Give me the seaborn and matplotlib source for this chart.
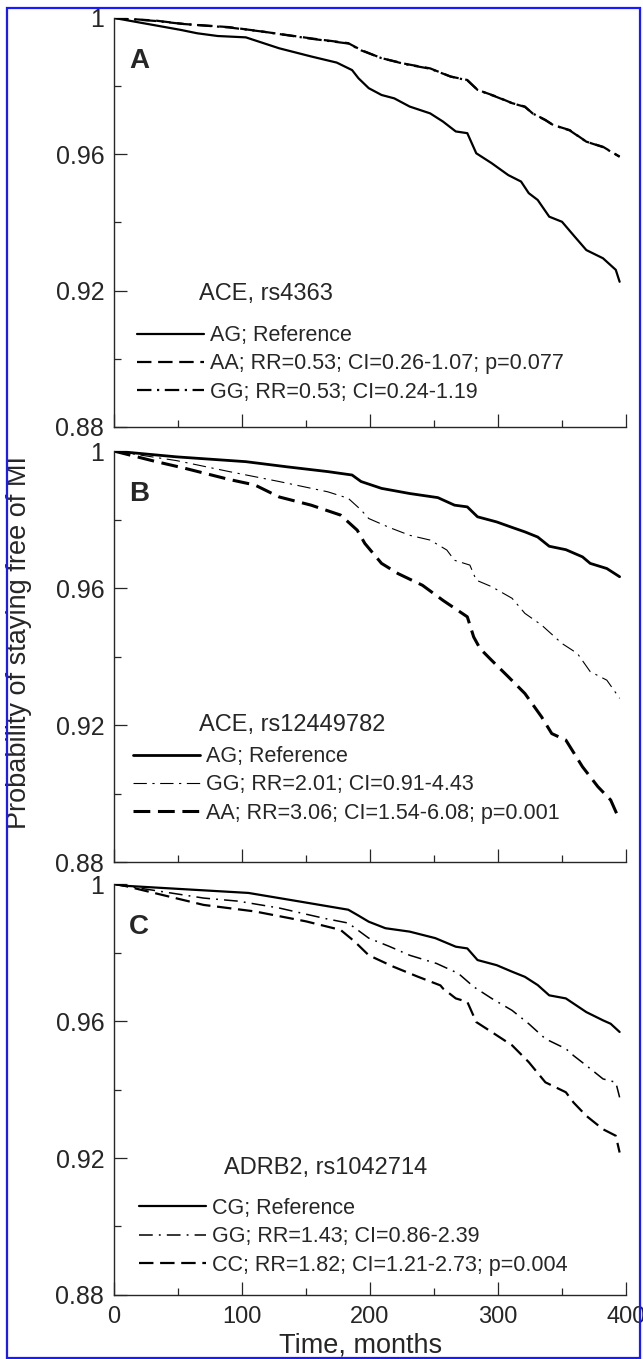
import numpy as np
import pandas as pd
import matplotlib
matplotlib.use('Agg')
import matplotlib.pyplot as plt
import seaborn as sns
from matplotlib.patches import Rectangle
from matplotlib.ticker import MultipleLocator, FuncFormatter

# Panel A: ACE, rs4363
a_ag_t = [0, 52, 65, 81, 103, 129, 154, 174, 186, 191, 199, 209, 219, 231, 247, 257, 267, 276,
          283, 295, 308, 318, 324, 331, 340, 350, 360, 369, 382, 392, 395]
a_ag_p = [1.0, 0.9965, 0.9955, 0.9947, 0.9943, 0.9911, 0.9887, 0.9869, 0.9847, 0.9823, 0.9794,
          0.9774, 0.9764, 0.9740, 0.9720, 0.9696, 0.9667, 0.9662, 0.9603, 0.9574, 0.9539, 0.9520,
          0.9486, 0.9466, 0.9417, 0.9402, 0.9358, 0.9319, 0.9295, 0.9261, 0.9226]
a_aa_t = [0, 33, 55, 90, 116, 154, 183, 193, 209, 228, 247, 263, 276, 284, 299, 311, 321, 327,
          337, 343, 356, 369, 382, 395]
a_aa_p = [1.0, 0.9992, 0.9982, 0.9973, 0.9960, 0.9940, 0.9926, 0.9906, 0.9882, 0.9865, 0.9852,
          0.9828, 0.9818, 0.9789, 0.9769, 0.9750, 0.9740, 0.9720, 0.9701, 0.9686, 0.9671, 0.9637,
          0.9622, 0.9593]
a_gg_t = [0, 33, 55, 90, 116, 154, 183, 193, 209, 228, 247, 263, 276, 284, 299, 311, 321, 327,
          337, 343, 356, 369, 382, 395]
a_gg_p = [1.0, 0.9991, 0.9982, 0.9972, 0.9960, 0.9939, 0.9925, 0.9905, 0.9882, 0.9864, 0.9851,
          0.9828, 0.9817, 0.9789, 0.9768, 0.9750, 0.9739, 0.9720, 0.9700, 0.9686, 0.9670, 0.9637,
          0.9621, 0.9593]

# Panel B: ACE, rs12449782
b_ag_t = [0, 49, 103, 135, 167, 186, 193, 209, 231, 253, 266, 276, 284, 299, 311, 321, 331, 340,
          353, 366, 372, 385, 395]
b_ag_p = [1.0, 0.9983, 0.9969, 0.9954, 0.9940, 0.9930, 0.9911, 0.9891, 0.9876, 0.9864, 0.9842,
          0.9837, 0.9808, 0.9793, 0.9777, 0.9764, 0.9749, 0.9722, 0.9712, 0.9691, 0.9672, 0.9657,
          0.9633]
b_gg_t = [0, 49, 90, 129, 167, 183, 193, 199, 215, 231, 247, 260, 266, 278, 283, 295, 311, 321,
          334, 350, 362, 372, 385, 395]
b_gg_p = [1.0, 0.9972, 0.9940, 0.9911, 0.9881, 0.9862, 0.9828, 0.9803, 0.9777, 0.9754, 0.9740,
          0.9711, 0.9681, 0.9667, 0.9623, 0.9604, 0.9570, 0.9526, 0.9492, 0.9438, 0.9409, 0.9356,
          0.9331, 0.9278]
b_aa_t = [0, 33, 55, 90, 110, 129, 154, 177, 190, 196, 209, 222, 241, 257, 276, 281, 286, 295,
          308, 321, 334, 342, 353, 366, 378, 388, 395]
b_aa_p = [1.0, 0.9969, 0.9950, 0.9917, 0.9901, 0.9866, 0.9842, 0.9813, 0.9769, 0.9730, 0.9672,
          0.9642, 0.9608, 0.9564, 0.9516, 0.9457, 0.9423, 0.9389, 0.9341, 0.9292, 0.9224, 0.9175,
          0.9156, 0.9078, 0.9020, 0.8981, 0.8922]

# Panel C: ADRB2, rs1042714
c_cg_t = [0, 8, 105, 145, 183, 190, 199, 212, 231, 251, 267, 276, 284, 299, 311, 321, 331, 340,
          353, 369, 382, 388, 395]
c_cg_p = [1.0, 0.9995, 0.9974, 0.9949, 0.9925, 0.9910, 0.9890, 0.9871, 0.9861, 0.9842, 0.9817,
          0.9812, 0.9778, 0.9763, 0.9744, 0.9729, 0.9705, 0.9675, 0.9666, 0.9626, 0.9602, 0.9592,
          0.9568]
c_gg_t = [0, 8, 70, 97, 129, 164, 183, 199, 215, 231, 252, 269, 281, 283, 295, 311, 324, 337,
          353, 359, 369, 382, 392, 395]
c_gg_p = [1.0, 0.9995, 0.9959, 0.9950, 0.9930, 0.9900, 0.9886, 0.9842, 0.9818, 0.9792, 0.9768,
          0.9739, 0.9700, 0.9695, 0.9666, 0.9631, 0.9592, 0.9548, 0.9519, 0.9499, 0.9470, 0.9431,
          0.9421, 0.9377]
c_cc_t = [0, 8, 70, 110, 150, 177, 188, 199, 218, 237, 255, 257, 267, 276, 283, 295, 311, 324,
          337, 353, 359, 369, 382, 392, 395]
c_cc_p = [1.0, 0.9995, 0.9939, 0.9920, 0.9891, 0.9866, 0.9832, 0.9792, 0.9759, 0.9730, 0.9704,
          0.9695, 0.9666, 0.9656, 0.9597, 0.9568, 0.9529, 0.9480, 0.9421, 0.9392, 0.9362, 0.9323,
          0.9284, 0.9265, 0.9216]

panel_letters = ['A', 'B', 'C']
panel_titles = ['ACE, rs4363', 'ACE, rs12449782', 'ADRB2, rs1042714']

sns.set_style('ticks')
plt.rcParams['font.family'] = ['Liberation Sans', 'DejaVu Sans']

fig = plt.figure(figsize=(6.43, 13.59), dpi=100)

left, right = 0.1773, 0.9736
bottoms = [0.6858, 0.3657, 0.0471]
tops = [0.9868, 0.6681, 0.3495]

# curves per panel: (t, p, label, linestyle, linewidth)
dash = (0, (6.5, 3.0))
dashdot = (0, (6.5, 2.5, 1.0, 2.5))
panels = [
    [(a_ag_t, a_ag_p, 'AG; Reference', '-', 1.6),
     (a_aa_t, a_aa_p, 'AA; RR=0.53; CI=0.26-1.07; p=0.077', dash, 1.6),
     (a_gg_t, a_gg_p, 'GG; RR=0.53; CI=0.24-1.19', dashdot, 1.6)],
    [(b_ag_t, b_ag_p, 'AG; Reference', '-', 2.0),
     (b_gg_t, b_gg_p, 'GG; RR=2.01; CI=0.91-4.43', (0, (12, 5, 2, 5)), 0.8),
     (b_aa_t, b_aa_p, 'AA; RR=3.06; CI=1.54-6.08; p=0.001', (0, (5.5, 2.5)), 2.2)],
    [(c_cg_t, c_cg_p, 'CG; Reference', '-', 1.6),
     (c_gg_t, c_gg_p, 'GG; RR=1.43; CI=0.86-2.39', (0, (9, 4, 1.2, 4)), 1.1),
     (c_cc_t, c_cc_p, 'CC; RR=1.82; CI=1.21-2.73; p=0.004', dash, 1.6)],
]
title_pos = [(0.166, 0.325), (0.166, 0.333), (0.214, 0.308)]
legend_pos = [(0.045, 0.249), (0.037, 0.282), (0.049, 0.236)]

for i in range(3):
    ax = fig.add_axes([left, bottoms[i], right - left, tops[i] - bottoms[i]])
    for t, p, lab, ls, lw in panels[i]:
        df = pd.DataFrame({'t': t, 'p': p})
        sns.lineplot(data=df, x='t', y='p', ax=ax, color='black', linewidth=lw,
                     linestyle=ls, label=lab, sort=False, estimator=None, errorbar=None)
    ax.set_xlim(0, 400)
    ax.set_ylim(0.88, 1.0)
    ax.xaxis.set_major_locator(MultipleLocator(100))
    ax.xaxis.set_minor_locator(MultipleLocator(50))
    ax.yaxis.set_major_locator(MultipleLocator(0.04))
    ax.yaxis.set_minor_locator(MultipleLocator(0.02))
    ax.yaxis.set_major_formatter(FuncFormatter(lambda v, pos: '%g' % round(v, 2)))
    ax.tick_params(which='major', direction='in', length=9.5, width=0.9, labelsize=18, pad=7)
    ax.tick_params(which='minor', direction='in', length=5, width=0.9)
    ax.tick_params(axis='x', pad=8, labelsize=17)
    if i < 2:
        ax.tick_params(axis='x', labelbottom=False)
    for s in ['top', 'right']:
        ax.spines[s].set_visible(False)
    for s in ['left', 'bottom']:
        ax.spines[s].set_linewidth(1.0)
    ax.set_xlabel('')
    ax.set_ylabel('')
    ax.text(0.03, 0.927, panel_letters[i], transform=ax.transAxes, fontsize=20,
            fontweight='bold', va='top', ha='left')
    ax.text(title_pos[i][0], title_pos[i][1], panel_titles[i], transform=ax.transAxes,
            fontsize=17, va='center', ha='left')
    ax.legend(loc='upper left', bbox_to_anchor=legend_pos[i], frameon=False, fontsize=15.5,
              handlelength=3.1, handletextpad=0.3, labelspacing=0.34, borderpad=0,
              borderaxespad=0)

fig.text(0.030, 0.527, 'Probability of staying free of MI', rotation=90, fontsize=19.5,
         va='center', ha='center')
fig.text(0.56, 0.0045, 'Time, months', fontsize=19.5, va='baseline', ha='center')

fig.patches.append(Rectangle((7 / 643, 1 / 1359), 633 / 643, 1350 / 1359,
                             transform=fig.transFigure, fill=False, edgecolor='#1a1aff',
                             linewidth=1.6, zorder=10))

fig.savefig('out.png', dpi=100)
